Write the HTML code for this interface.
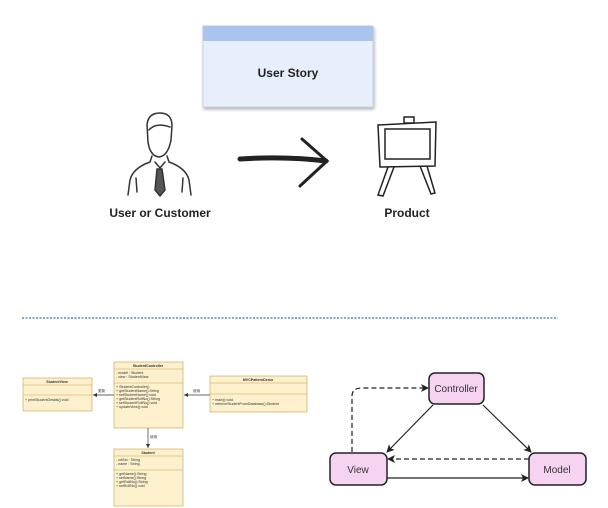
<!DOCTYPE html>
<html><head><meta charset="utf-8"><style>
html,body{margin:0;padding:0;background:#fff;width:608px;height:508px;overflow:hidden}
svg{display:block;font-family:"Liberation Sans","Noto Sans CJK SC",sans-serif}
</style></head><body>
<svg width="608" height="508" viewBox="0 0 608 508">
<defs>
<filter id="sh" x="-10%" y="-10%" width="130%" height="140%"><feDropShadow dx="1" dy="2" stdDeviation="1.5" flood-opacity="0.3"/></filter>
<marker id="ah" markerWidth="8" markerHeight="8" refX="7" refY="4" orient="auto" markerUnits="userSpaceOnUse"><path d="M0,0 L8,4 L0,8 L2,4 z" fill="#222"/></marker>
<marker id="sa" markerWidth="4" markerHeight="4" refX="4" refY="2" orient="auto" markerUnits="userSpaceOnUse"><path d="M0,0 L4,2 L0,4 z" fill="#333"/></marker>
</defs>
<!-- User story -->
<rect x="203" y="26" width="170" height="81" fill="#e8effc" stroke="#c8d2e4" filter="url(#sh)"/>
<rect x="203" y="26" width="170" height="15" fill="#aac4ef"/>
<text x="288" y="77" font-size="12" font-weight="bold" text-anchor="middle" fill="#222">User Story</text>
<!-- person -->
<g fill="none" stroke="#333" stroke-width="1.5" stroke-linecap="round">
<path d="M147,125 Q148,113 160,113 Q172,113 172,126 L171,140 Q168,156 159,157 Q150,156 148,142 Z"/>
<path d="M149,130 Q156,122 170,127"/>
<path d="M152,156 L150,162 Q133,168 130,180 L128,195"/>
<path d="M167,156 L169,162 Q186,168 189,180 L191,195"/>
<path d="M155,162 L160,168 L165,162"/>
<path d="M157,169 L162,169 L165,190 L160,196 L155,190 Z" fill="#555"/>
<path d="M136,178 L137,192 M183,178 L182,192"/>
</g>
<text x="160" y="217" font-size="12" font-weight="bold" text-anchor="middle" fill="#222">User or Customer</text>
<!-- arrow -->
<path d="M240,159 Q285,156 326,161" stroke="#222" stroke-width="5" fill="none" stroke-linecap="round"/>
<path d="M302,139 L327,161 L300,186" stroke="#222" stroke-width="3" fill="none" stroke-linecap="round"/>
<!-- easel -->
<g fill="none" stroke="#222" stroke-width="1.5">
<rect x="404" y="117" width="10" height="6"/>
<path d="M378,125 L436,122 L435,166 L380,167 Z"/>
<rect x="385" y="129" width="45" height="30"/>
<path d="M388,167 L378,195 L383,196 L394,167"/>
<path d="M420,166 L431,194 L435,193 L427,166"/>
</g>
<text x="407" y="217" font-size="12" font-weight="bold" text-anchor="middle" fill="#222">Product</text>
<!-- dashed separator -->
<path d="M22,318 L558,318" stroke="#4a90c8" stroke-width="1.5" stroke-dasharray="2,1.5"/>
<!-- UML -->
<g font-size="3.6" fill="#333">
<g stroke="#c9a04a" stroke-width="0.6" fill="#fcf1cc">
<rect x="23" y="378" width="69" height="33"/><rect x="114" y="362" width="69" height="66"/>
<rect x="210" y="376" width="97" height="36"/><rect x="114" y="449" width="69" height="57"/>
</g>
<g stroke="#c9a04a" stroke-width="0.5">
<path d="M23,385H92M23,395H92M114,369H183M114,383H183M210,383H307M210,394H307M114,456H183M114,470H183"/>
</g>
<g font-weight="bold" text-anchor="middle">
<text x="57" y="383">StudentView</text><text x="148" y="367">StudentController</text>
<text x="258" y="381">MVCPatternDemo</text><text x="148" y="454">Student</text>
</g>
<text x="25" y="401">+ printStudentDetails():void</text>
<text x="116" y="374">- model : Student</text><text x="116" y="378">- view : StudentView</text>
<text x="116" y="388">+ StudentController()</text><text x="116" y="392">+ getStudentName():String</text>
<text x="116" y="396">+ setStudentName():void</text><text x="116" y="400">+ getStudentRollNo():String</text>
<text x="116" y="404">+ setStudentRollNo():void</text><text x="116" y="408">+ updateView():void</text>
<text x="212" y="401">+ main():void</text><text x="212" y="405">+ retrieveStudentFromDatabase():Student</text>
<text x="116" y="461">- rollNo : String</text><text x="116" y="465">- name : String</text>
<text x="116" y="475">+ getName():String</text><text x="116" y="479">+ setName():String</text>
<text x="116" y="483">+ getRollNo():String</text><text x="116" y="487">+ setRollNo():void</text>
<g stroke="#333" stroke-width="0.7" fill="none">
<path d="M114,395H93" marker-end="url(#sa)"/><path d="M210,395H184" marker-end="url(#sa)"/>
<path d="M148,428V448" marker-end="url(#sa)"/>
</g>
<text x="98" y="392">更新</text><text x="193" y="392">使用</text><text x="150" y="438">使用</text>
</g>
<!-- MVC -->
<g stroke="#222" stroke-width="1.2" fill="none">
<path d="M352,452 V396 Q352,388 362,388 H428" stroke-dasharray="5,3" marker-end="url(#ah)"/>
<path d="M433,405 L387,452" marker-end="url(#ah)"/>
<path d="M483,405 L531,452" marker-end="url(#ah)"/>
<path d="M529,459 H388" stroke-dasharray="5,3" marker-end="url(#ah)"/>
<path d="M387,478 H528" marker-end="url(#ah)"/>
</g>
<g fill="#f7d3f2" stroke="#222" stroke-width="1.5">
<rect x="429" y="373" width="55" height="31" rx="6"/>
<rect x="330" y="453" width="57" height="32" rx="6"/>
<rect x="529" y="453" width="57" height="32" rx="6"/>
</g>
<g font-size="10" text-anchor="middle" fill="#333">
<text x="456" y="392">Controller</text><text x="358" y="473">View</text><text x="557" y="473">Model</text>
</g>
</svg>
</body></html>
